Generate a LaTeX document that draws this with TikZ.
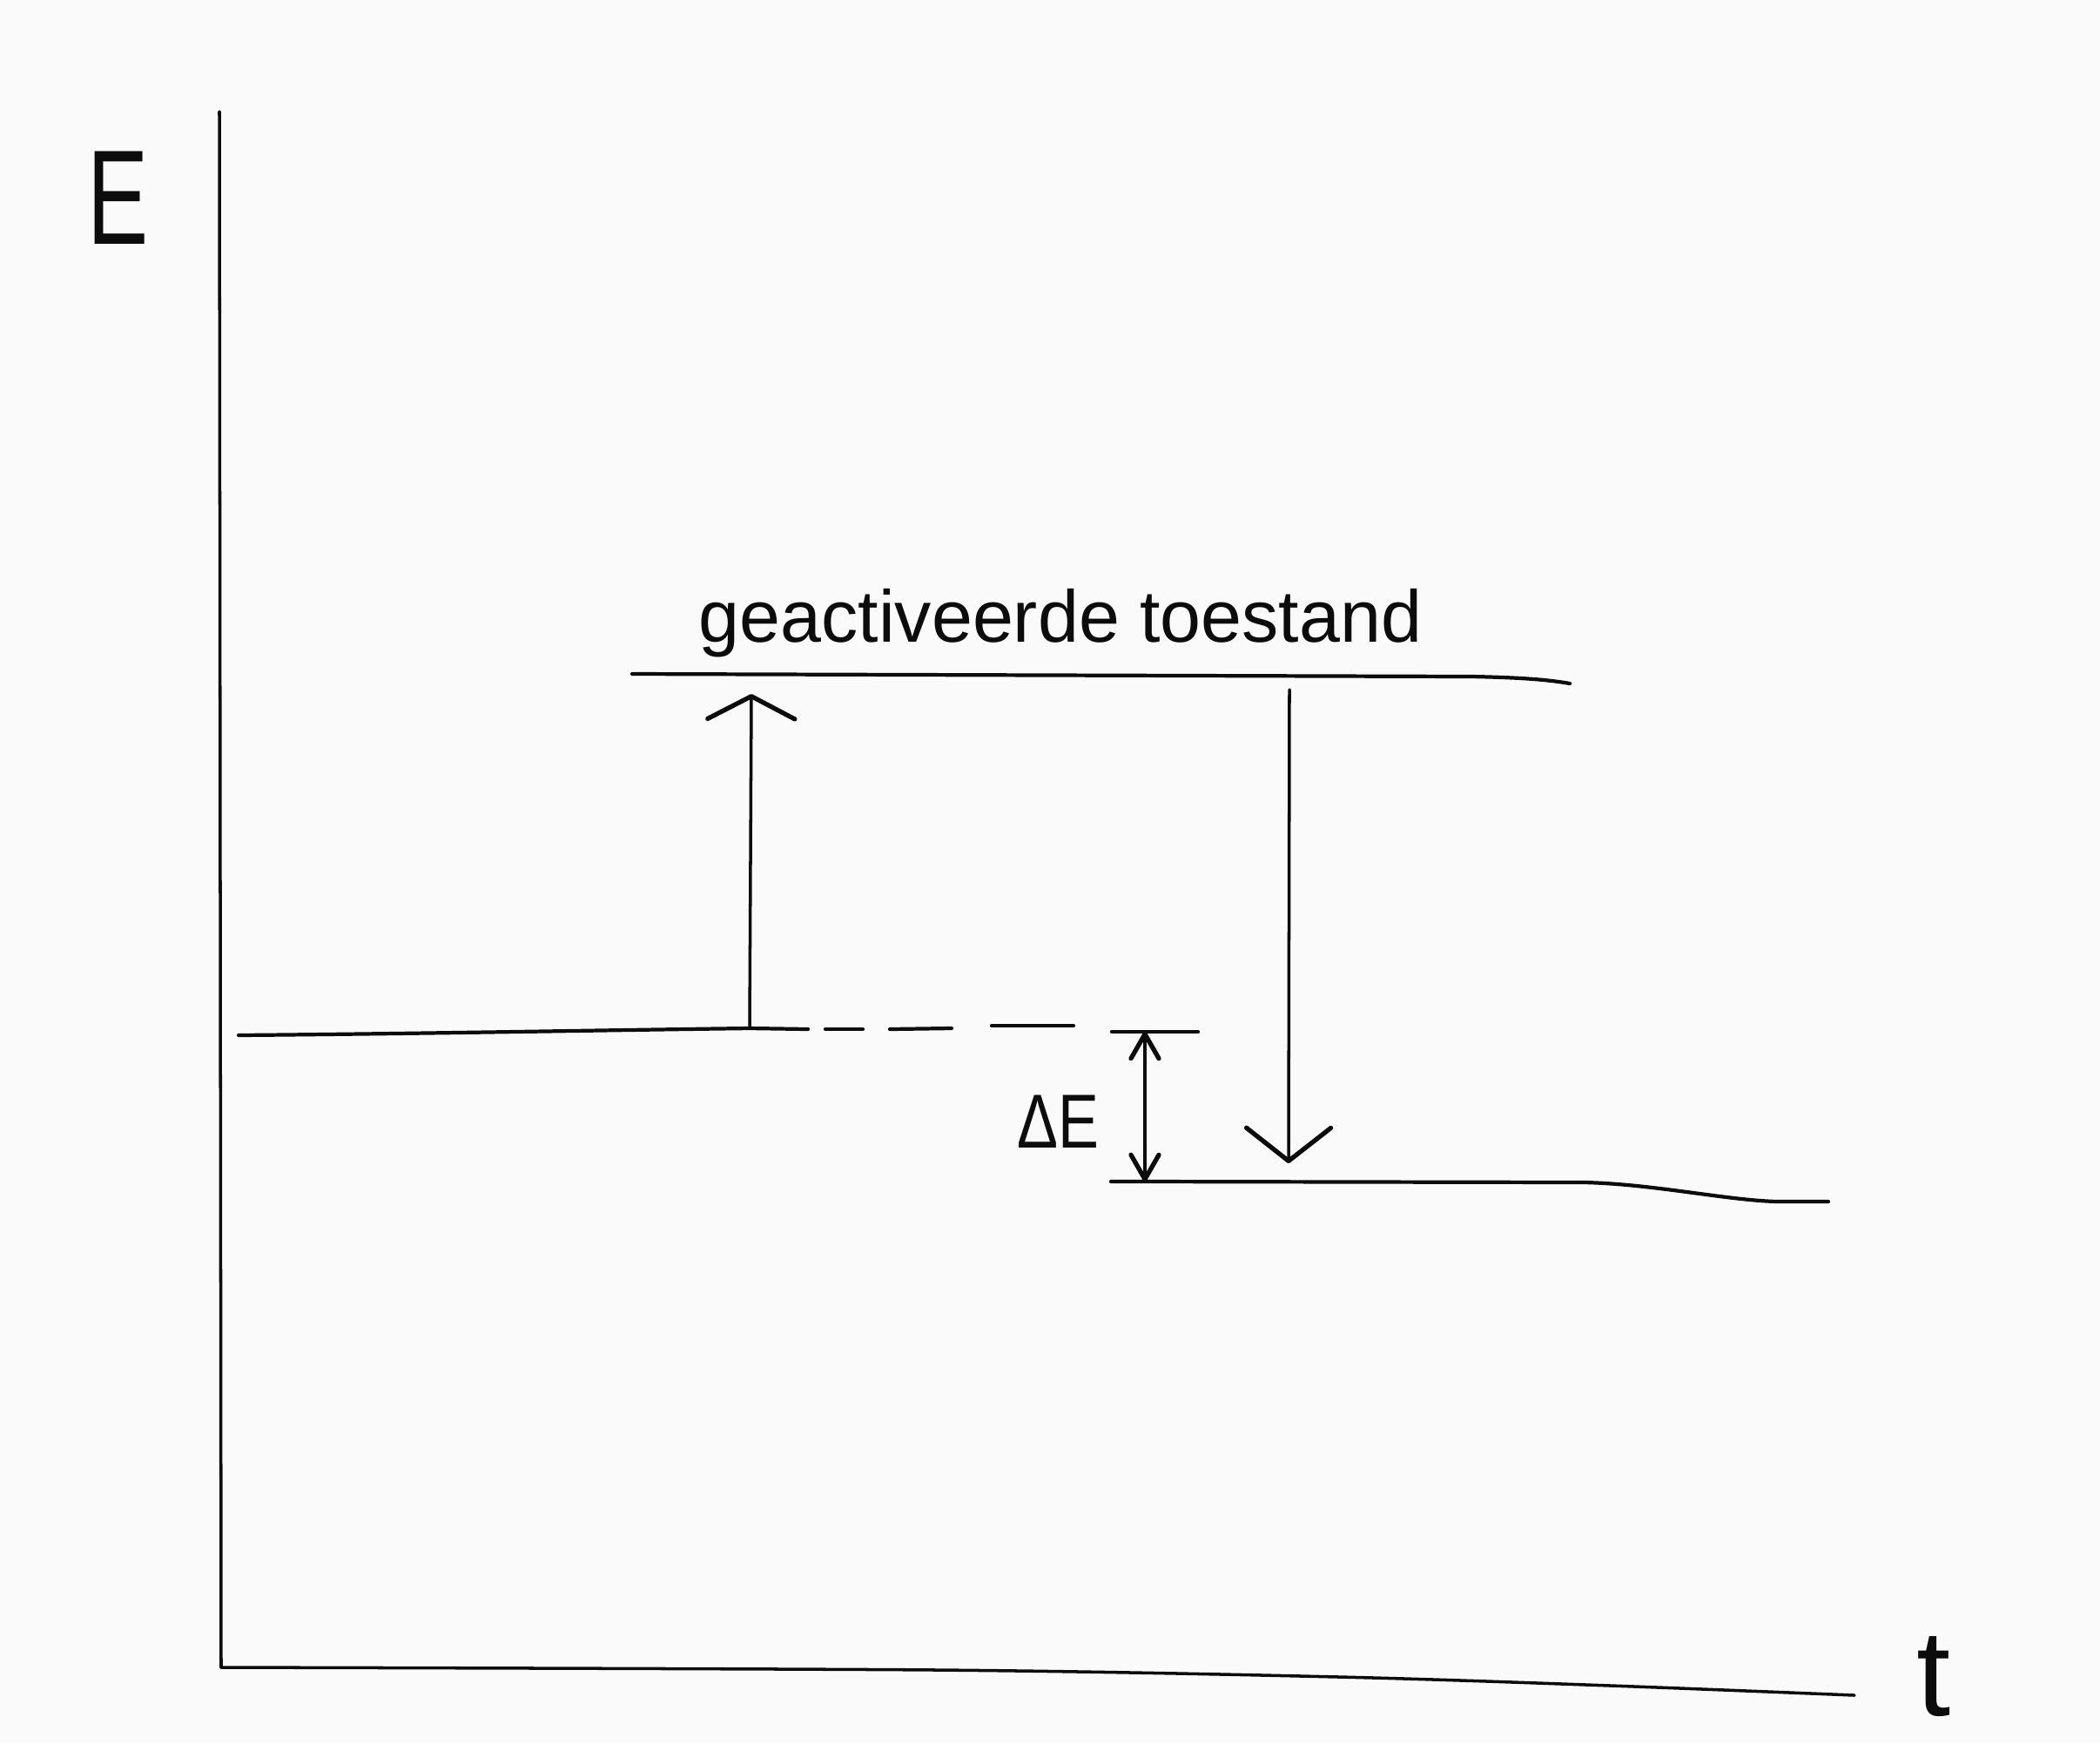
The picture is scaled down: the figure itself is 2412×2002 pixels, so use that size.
\documentclass[tikz,border=0pt]{standalone}
\usepackage{fontspec}
\setmainfont{Liberation Sans}
\usetikzlibrary{arrows.meta}
\definecolor{bgcol}{RGB}{250,250,250}
\definecolor{ink}{RGB}{12,12,12}
\begin{document}
\begin{tikzpicture}[x=0.01cm,y=-0.01cm, line cap=round, line join=round,
  ink/.style={draw=ink, line width=1pt},
  lvl/.style={draw=ink, line width=1.2pt},
  lbl/.style={text=ink, inner sep=0pt, anchor=base},
  upbarb/.style={-{Straight Barb[length=0.26cm, width=1.0cm, line width=1.5pt, round]}},
  downbarb/.style={-{Straight Barb[length=0.38cm, width=0.97cm, line width=1.5pt, round]}},
  dbarb/.style={{Straight Barb[length=0.28cm, width=0.32cm, line width=1.5pt, round]}-{Straight Barb[length=0.28cm, width=0.32cm, line width=1.5pt, round]}}
]
\fill[bgcol] (0,0) rectangle (2412,2002);
\useasboundingbox (0,0) rectangle (2412,2002);

% axes
\coordinate (ytop) at (252,128);
\coordinate (origin) at (254,1915);
\coordinate (xend) at (2130,1947);
\draw[ink] (ytop) -- (origin);
\draw[ink] plot[smooth] coordinates {(origin) (1077,1918) (1538,1926) (1850,1936) (xend)};

% axis labels
\node[lbl, font=\fontsize{44}{50}\selectfont] (E) at (136,280) {\scalebox{0.68}[1]{E}};
\node[lbl, font=\fontsize{40}{46}\selectfont] (t) at (2221,1970) {t};

% activated state level
\coordinate (upL) at (726,774);
\coordinate (upR) at (1803,785);
\draw[lvl] (upL) -- (1690,777) .. controls (1740,778) and (1775,780) .. (upR);
\node[lbl, font=\fontsize{24}{28}\selectfont] (act) at (1218,737) {geactiveerde toestand};

% initial level
\coordinate (leftL) at (274,1189);
\coordinate (upStart) at (861,1181);
\draw[lvl] (leftL) .. controls (500,1187) and (700,1183) .. (upStart) -- (928,1182);
% dashed continuation
\draw[lvl] (948,1182) -- (991,1182);
\draw[lvl] (1022,1182) -- (1093,1181);
\draw[lvl] (1139,1178) -- (1233,1178);
\coordinate (dEtop) at (1315,1185);
\draw[lvl] (1277,1185) -- (1376,1185);

% final level
\coordinate (dEbot) at (1315,1357);
\draw[lvl] (1276,1357) -- (dEbot) -- (1820,1358) .. controls (1900,1360) and (1980,1378) .. (2040,1380) -- (2100,1380);

% arrows
\coordinate (upEnd) at (863,797);
\draw[ink, upbarb] (upStart) -- (upEnd);
\coordinate (downStart) at (1481,792);
\coordinate (downEnd) at (1480,1336);
\draw[ink, downbarb] (downStart) -- (downEnd);
\draw[ink, dbarb] (dEtop) -- (dEbot);
\node[lbl, font=\fontsize{25}{30}\selectfont] (dE) at (1215,1318) {\scalebox{0.8}[1]{ΔE}};
\end{tikzpicture}
\end{document}
